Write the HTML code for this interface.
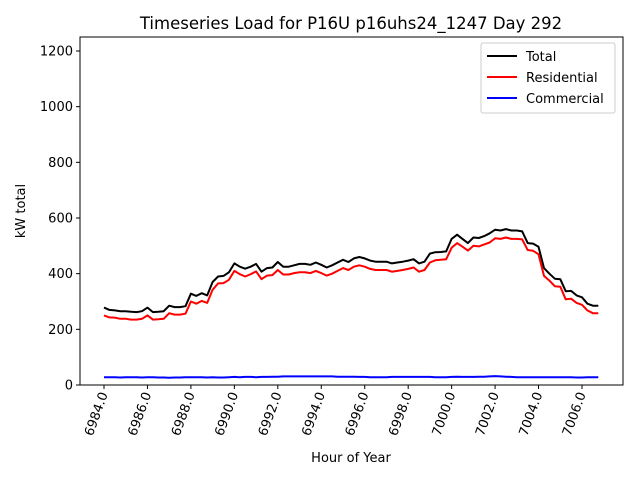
<!DOCTYPE html>
<html><head><meta charset="utf-8"><style>
body{margin:0;background:#fff;font-family:"Liberation Sans","DejaVu Sans",sans-serif;}
</style></head><body>
<svg id="chart" width="640" height="480" xmlns="http://www.w3.org/2000/svg" font-family="DejaVu Sans, Liberation Sans, sans-serif">
<rect width="640" height="480" fill="#fff"/>
<text x="351" y="29" text-anchor="middle" font-size="16.5">Timeseries Load for P16U p16uhs24_1247  Day 292</text>
<g id="plot"></g>
<rect x="80" y="37" width="543" height="348" fill="none" stroke="#000" stroke-width="1"/>
<text x="351" y="462" text-anchor="middle" font-size="13">Hour of Year</text>
<text transform="translate(25,211) rotate(-90)" text-anchor="middle" font-size="13">kW total</text>
<g>
<rect x="481" y="43" width="134" height="70" fill="#fff" stroke="#ccc" rx="2"/>
<line x1="487" y1="56" x2="517" y2="56" stroke="#000" stroke-width="2"/>
<text x="526" y="61" font-size="13">Total</text>
<line x1="487" y1="77" x2="517" y2="77" stroke="#f00" stroke-width="2"/>
<text x="526" y="82" font-size="13">Residential</text>
<line x1="487" y1="98" x2="517" y2="98" stroke="#00f" stroke-width="2"/>
<text x="526" y="103" font-size="13">Commercial</text>
</g>
</svg>
<script>
const startHour = 6984;
const stepHours = 0.25;
const total = [278,270,268,265,265,263,262,265,278,262,263,265,285,280,280,283,328,320,330,322,370,390,392,405,437,425,418,425,435,407,420,422,442,425,425,430,435,435,432,440,432,422,430,440,450,442,455,460,455,447,443,443,443,437,440,443,447,452,437,443,472,477,478,480,525,540,525,510,530,528,535,545,558,555,560,555,555,552,510,508,497,420,400,382,380,337,338,322,315,292,285,285];
const residential = [250,243,242,238,238,235,235,238,250,235,236,238,258,253,253,256,300,292,302,295,342,365,366,378,410,398,390,398,408,380,393,395,413,397,397,402,405,405,402,410,402,393,400,410,420,413,425,430,425,417,413,413,413,407,410,413,417,422,407,413,440,448,450,452,493,510,497,483,500,498,505,512,527,525,530,525,525,523,485,482,470,392,375,355,353,308,310,295,288,268,258,258];
const commercial = [28,28,28,27,28,28,28,27,28,28,27,27,26,27,27,28,28,28,28,27,28,27,27,28,29,28,29,29,28,29,29,30,30,31,31,31,31,31,31,31,31,31,31,30,30,30,30,29,29,28,28,28,28,29,29,29,29,29,29,29,29,28,28,28,29,30,29,29,29,30,30,31,32,31,30,29,28,28,28,28,28,28,28,28,28,28,28,27,27,28,28,28];
const yTicks = [0,200,400,600,800,1000,1200];
const xTicks = [6984,6986,6988,6990,6992,6994,6996,6998,7000,7002,7004,7006];
const NS="http://www.w3.org/2000/svg";
const X = h => 104 + (h-6984)*21.727;
const Y = v => 385 - v*0.27833;
const g = document.getElementById('plot');
function mk(t,a){const e=document.createElementNS(NS,t);for(const k in a)e.setAttribute(k,a[k]);g.appendChild(e);return e;}
yTicks.forEach(v=>{
  const l=mk('line',{x1:76,x2:80,y1:Y(v),y2:Y(v),stroke:'#000'});
  
  
  const t=mk('text',{x:73,y:Y(v)+4.5,'text-anchor':'end','font-size':13});
  t.textContent=v;
  
  
});
xTicks.forEach(h=>{
  const l=mk('line',{x1:X(h),x2:X(h),y1:385,y2:389,stroke:'#000'});
  
  
  const t=mk('text',{transform:`translate(${X(h)+4},394) rotate(-70)`,'text-anchor':'end','font-size':13});
  t.textContent=h.toFixed(1);
  
  
});
function series(arr,color,name){
  const pts=arr.map((v,i)=>X(startHour+i*stepHours).toFixed(1)+','+Y(v).toFixed(1)).join(' ');
  const p=mk('polyline',{points:pts,fill:'none',stroke:color,'stroke-width':2,'stroke-linejoin':'round'});
  
  
}
series(total,'#000','total-line');
series(residential,'#f00','residential-line');
series(commercial,'#00f','commercial-line');
</script>
</body></html>
